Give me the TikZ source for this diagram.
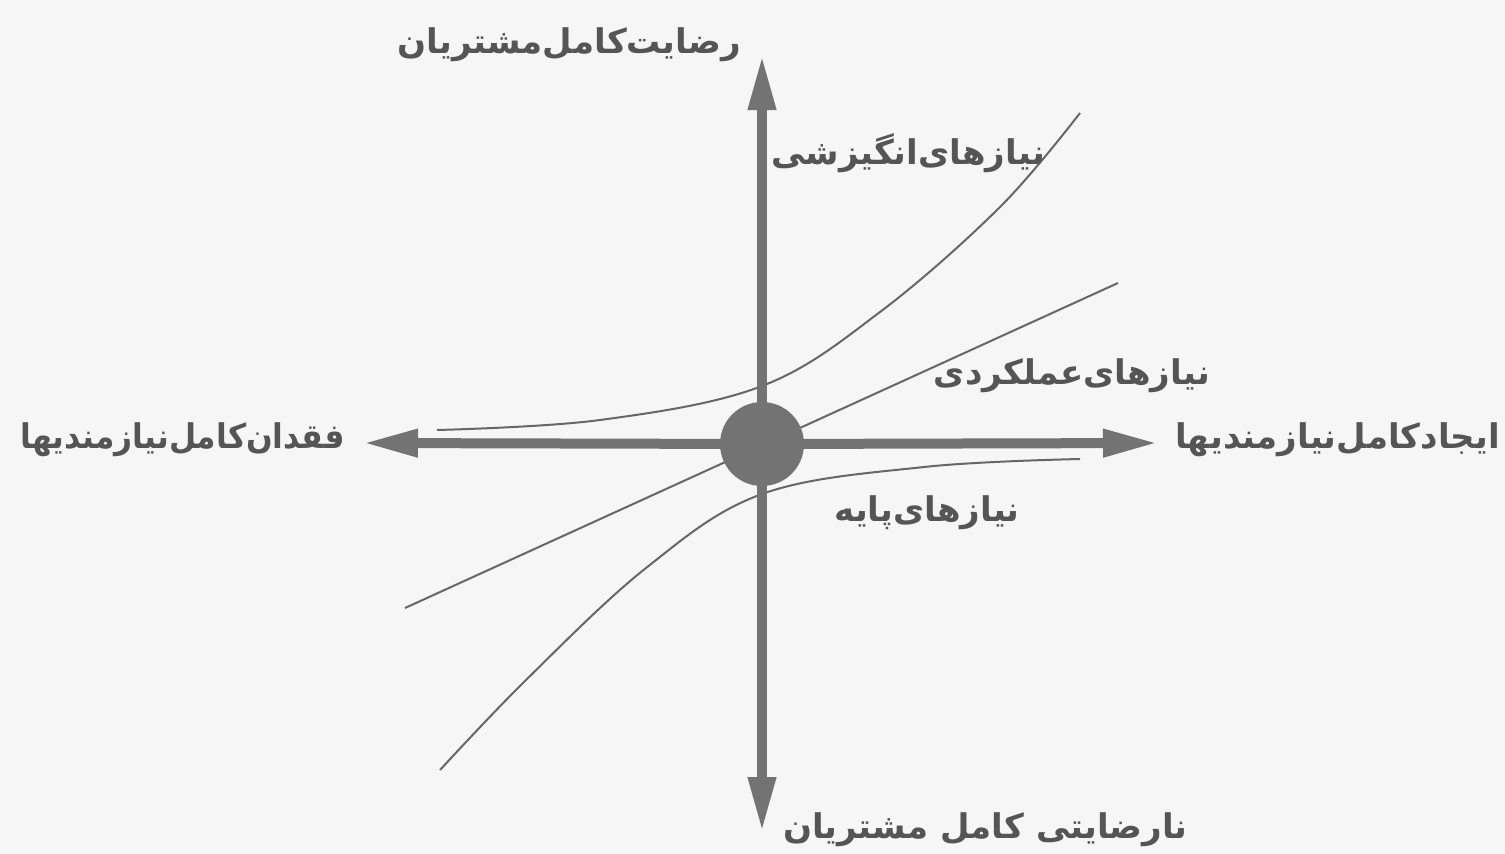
\documentclass[tikz,border=0pt]{standalone}
\usepackage{fontspec}
\newfontfamily\arabicfont[Script=Arabic]{DejaVu Sans}
\TeXXeTstate=1
\usetikzlibrary{arrows.meta}
\definecolor{axisgray}{RGB}{115,115,115}
\definecolor{txtgray}{RGB}{85,85,85}
\definecolor{bggray}{RGB}{246,246,246}
\tikzset{
  axis/.style={draw=axisgray, line width=10pt, -{Triangle[length=55pt,width=26pt]}},
  curve/.style={draw=axisgray!90!black, line width=2pt},
  lbl/.style={text=txtgray, inner sep=0pt, font=\arabicfont\bfseries\fontsize{34}{38}\selectfont},
}
\begin{document}
\begin{tikzpicture}[x=1pt,y=-1pt]
\useasboundingbox (0,0) rectangle (1505,854);
\fill[bggray] (0,0) rectangle (1505,854);
\coordinate (o) at (762,444);
\coordinate (top) at (762,55);
\coordinate (bot) at (762,832);
\coordinate (lft) at (363,443);
\coordinate (rgt) at (1158,443);
% curves
\coordinate (e1) at (437,430);
\coordinate (e2) at (1080,113);
\coordinate (p1) at (405,608);
\coordinate (p2) at (1118,283);
\coordinate (b1) at (440,770);
\coordinate (b2) at (1080,459);
\draw[curve] plot[smooth, tension=0.6] coordinates {(e1) (600,420) (762,386) (880,312) (1000,207) (e2)};
\draw[curve] (p1) -- (p2);
\draw[curve] plot[smooth, tension=0.6] coordinates {(b1) (526,680) (646,568) (762,494) (924,467) (b2)};
% axes
\draw[axis] (o) -- (top);
\draw[axis] (o) -- (bot);
\draw[axis] (o) -- (lft);
\draw[axis] (o) -- (rgt);
\node[circle, fill=axisgray, minimum size=84pt, inner sep=0pt] (c) at (o) {};
% labels
\node[lbl, anchor=east] (ltop) at (741,45) {\beginR رضایت‌کامل‌مشتریان\endR};
\node[lbl, anchor=east] (lexc) at (1045,153) {\beginR نیازهای‌انگیزشی\endR};
\node[lbl, anchor=east] (lperf) at (1210,376) {\beginR نیازهای‌عملکردی\endR};
\node[lbl, anchor=east] (lleft) at (345,440) {\scalebox{0.92}[1]{\beginR فقدان‌کامل‌نیازمندیها\endR}};
\node[lbl, anchor=east] (lright) at (1500,440) {\beginR ایجادکامل‌نیازمندیها\endR};
\node[lbl, anchor=east] (lbas) at (1020,513) {\beginR نیازهای‌پایه\endR};
\node[lbl, anchor=east] (lbot) at (1188,830) {\beginR نارضایتی کامل مشتریان\endR};
\end{tikzpicture}
\end{document}
